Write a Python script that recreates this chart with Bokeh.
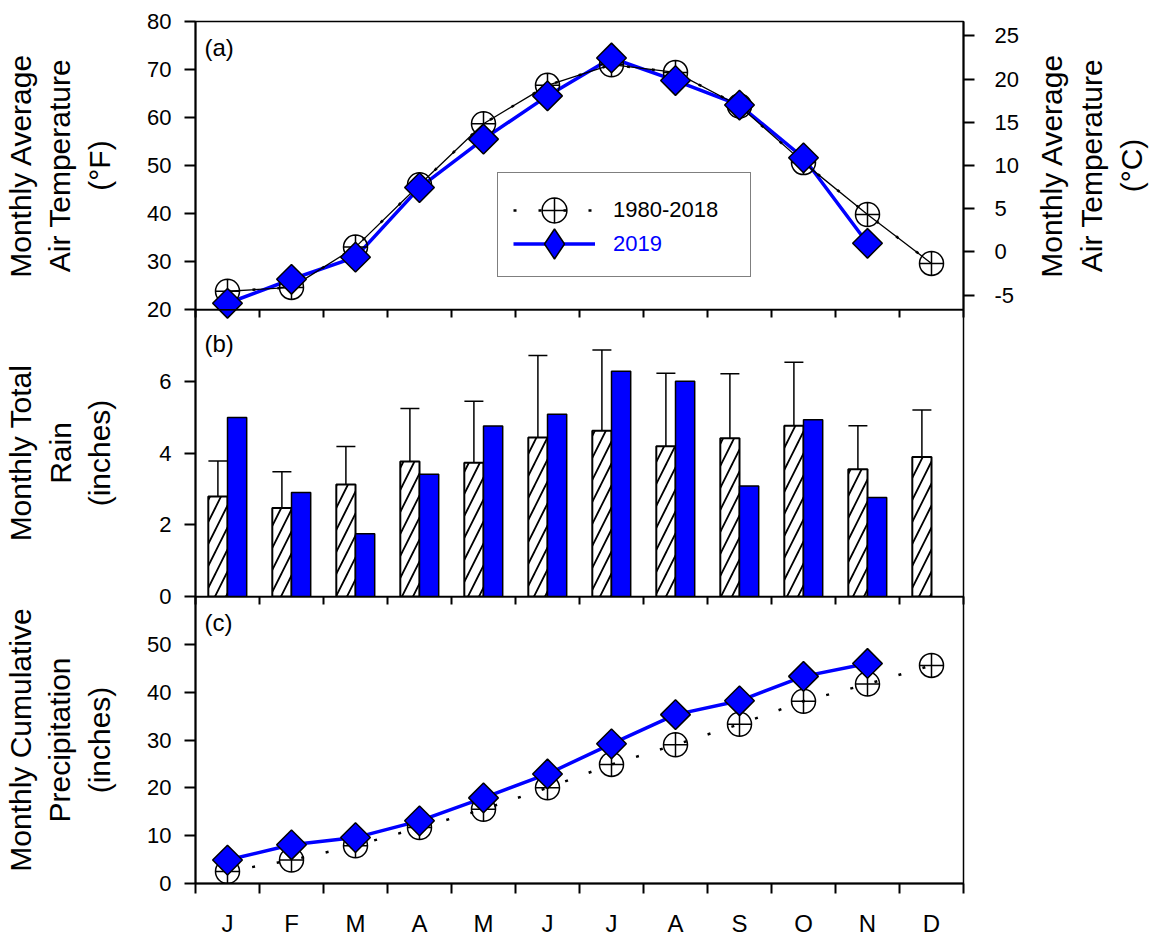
import math
from bokeh.plotting import figure
from bokeh.layouts import column, row
from bokeh.models import (Range1d, LinearAxis, FixedTicker, Whisker, TeeHead,
                          ColumnDataSource, Legend, LegendItem, Label, CDSView,
                          IndexFilter)
from bokeh.embed import file_html
from bokeh.resources import INLINE

NAN = float("nan")

# ---- data -------------------------------------------------------------
months = ["J", "F", "M", "A", "M", "J", "J", "A", "S", "O", "N", "D"]

# (a) monthly average air temperature, deg F
temp_normal_f = [23.8, 24.6, 33.0, 46.0, 58.7, 66.7, 71.0, 69.4, 62.4, 50.6, 39.8, 29.6]
temp_2019_f = [21.3, 26.3, 30.9, 45.4, 55.5, 64.5, 72.4, 67.7, 62.6, 51.6, 33.8, NAN]

# (b) monthly total rain, inches
rain_normal = [2.79, 2.47, 3.12, 3.76, 3.73, 4.43, 4.62, 4.19, 4.41, 4.76, 3.55, 3.89]
rain_normal_sd = [0.99, 1.01, 1.06, 1.48, 1.71, 2.29, 2.25, 2.03, 1.80, 1.77, 1.21, 1.31]
rain_2019 = [4.99, 2.90, 1.75, 3.41, 4.75, 5.08, 6.28, 6.00, 3.08, 4.93, 2.76, NAN]

# (c) monthly cumulative precipitation, inches
cum_normal = [2.5, 4.9, 7.9, 11.7, 15.5, 20.0, 24.9, 29.0, 33.3, 38.1, 41.7, 45.6]
cum_2019 = [4.9, 8.1, 9.6, 13.1, 17.9, 22.9, 29.2, 35.3, 38.2, 43.3, 46.0, NAN]

series_labels = ["1980-2018", "2019"]

# ---- styling -----------------------------------------------------------
FONT = "Liberation Sans"
BLUE = "#0000ff"
FRAME_W = 768
LEFT_B = 195
RIGHT_B = 189
RIGHT_B_TOP = 67    # top panel leaves room for the separate °C title strip
OVERLAP = 14        # panels overlap by this much so edge tick labels are not clipped

x_mid = [i + 0.5 for i in range(len(months))]
x_edges = list(range(len(months) + 1))


def style_y_axis(ax, ticks, label, label_standoff):
    ax.ticker = FixedTicker(ticks=ticks)
    ax.major_tick_out = 11
    ax.major_tick_in = 0
    ax.minor_tick_out = 0
    ax.minor_tick_in = 0
    ax.major_tick_line_width = 2
    ax.axis_line_width = 2
    ax.major_label_text_font = FONT
    ax.major_label_text_font_size = "22px"
    ax.major_label_text_color = "black"
    ax.major_label_standoff = 13
    ax.axis_label = label
    ax.axis_label_text_font = FONT
    ax.axis_label_text_font_size = "30px"
    ax.axis_label_text_font_style = "normal"
    ax.axis_label_text_color = "black"
    ax.axis_label_standoff = label_standoff


def add_top_ticks(p):
    # month boundary ticks pointing down from the top edge of a panel
    ax = LinearAxis(ticker=FixedTicker(ticks=[], minor_ticks=x_edges))
    ax.major_tick_in = 0
    ax.major_tick_out = 0
    ax.minor_tick_in = 8
    ax.minor_tick_out = 0
    ax.minor_tick_line_width = 2
    ax.minor_tick_line_color = "black"
    ax.axis_line_width = 2
    ax.major_label_standoff = 0
    p.add_layout(ax, "above")


def make_panel(frame_h, top_b, bottom_b, y0, y1, margin_top=0, right_b=RIGHT_B):
    p = figure(frame_width=FRAME_W, frame_height=frame_h,
               x_range=Range1d(0, 12), y_range=Range1d(y0, y1),
               x_axis_location=None, output_backend="svg",
               toolbar_location=None,
               min_border_left=LEFT_B, min_border_right=right_b,
               min_border_top=top_b, min_border_bottom=bottom_b,
               margin=(margin_top, 0, 0, 0))
    p.grid.visible = False
    p.outline_line_color = "black"
    p.outline_line_width = 1.5
    p.background_fill_alpha = 0
    p.border_fill_alpha = 0
    return p


def panel_tag(p, text, y_top, dy):
    p.add_layout(Label(x=0, y=y_top, x_offset=9, y_offset=-dy, text=text,
                       text_baseline="top", text_font=FONT,
                       text_font_size="24px", text_color="black"))


# ---- (a) air temperature -----------------------------------------------
pa = make_panel(288, 21, OVERLAP, 20, 80, right_b=RIGHT_B_TOP)
style_y_axis(pa.yaxis[0], [20, 30, 40, 50, 60, 70, 80],
             "Monthly Average\nAir Temperature\n(°F)", 28)

c_lo = (20 - 32) * 5 / 9
c_hi = (80 - 32) * 5 / 9
c_ticks = [-5, 0, 5, 10, 15, 20, 25]
pa.extra_y_ranges = {"celsius": Range1d(c_lo, c_hi)}
ax_c = LinearAxis(y_range_name="celsius")
style_y_axis(ax_c, c_ticks, None, 0)
ax_c.major_label_standoff = 20
ax_c.major_label_overrides = {t: str(t) for t in c_ticks}
pa.add_layout(ax_c, "right")

src_a = ColumnDataSource(dict(x=x_mid, normal=temp_normal_f, y2019=temp_2019_f))
r_blue_a = pa.line("x", "y2019", source=src_a, line_color=BLUE, line_width=3.5)
pa.line("x", "normal", source=src_a, line_color="black", line_width=1.3)
r_dots_a = pa.line("x", "normal", source=src_a, line_color="black",
                   line_width=2.5, line_dash="3 22")
r_circ_a = pa.scatter("x", "normal", source=src_a, marker="circle_cross", size=24,
                      fill_color=None, line_color="black", line_width=1.5)
r_diam_a = pa.scatter("x", "y2019", source=src_a, marker="square", size=21,
                      angle=math.pi / 4, fill_color=BLUE, line_color="black",
                      line_width=1.5)
r_diam_a.level = "annotation"   # the January marker may spill over the frame edge

# legend swatches that stay out of the plot area
r_diam_key = pa.scatter("x", "y2019", source=src_a, marker="diamond", size=30,
                        fill_color=BLUE, line_color="black", line_width=1.5,
                        visible=False)
r_box_key = pa.scatter("x", "y2019", source=src_a, marker="square", size=1,
                       fill_alpha=0, line_alpha=0,
                       view=CDSView(filter=IndexFilter(indices=[])))
panel_tag(pa, "(a)", 80, 12)

legend_frame = Legend(items=[LegendItem(label=" ", renderers=[r_box_key])],
                      location=(302, 32), padding=0, spacing=0, margin=0,
                      glyph_width=200, glyph_height=103, label_width=52,
                      label_standoff=0, label_height=20,
                      border_line_color="black", border_line_width=1.5,
                      background_fill_color="white", background_fill_alpha=1.0,
                      label_text_font=FONT, label_text_font_size="22px")
legend_normal = Legend(items=[LegendItem(label=series_labels[0],
                                         renderers=[r_dots_a, r_circ_a])],
                       location=(318, 68), padding=0, spacing=0, margin=0,
                       glyph_width=82, glyph_height=62, label_height=25,
                       label_standoff=18, border_line_alpha=0,
                       background_fill_alpha=0, label_text_color="black",
                       label_text_font=FONT, label_text_font_size="22px")
legend_2019 = Legend(items=[LegendItem(label=series_labels[1],
                                       renderers=[r_blue_a, r_diam_key])],
                     location=(318, 28), padding=0, spacing=0, margin=0,
                     glyph_width=82, glyph_height=75, label_height=25,
                     label_standoff=18, border_line_alpha=0,
                     background_fill_alpha=0, label_text_color=BLUE,
                     label_text_font=FONT, label_text_font_size="22px")
pa.add_layout(legend_frame)
pa.add_layout(legend_normal)
pa.add_layout(legend_2019)

# narrow strip beside (a) that carries the °C title, read bottom to top
pt = figure(frame_width=1, frame_height=288, x_range=Range1d(0, 1),
            y_range=Range1d(c_lo, c_hi), x_axis_location=None,
            output_backend="svg", toolbar_location=None,
            min_border_left=120, min_border_right=1,
            min_border_top=21, min_border_bottom=OVERLAP)
pt.grid.visible = False
pt.outline_line_color = None
pt.background_fill_alpha = 0
pt.border_fill_alpha = 0
t_ax = pt.yaxis[0]
t_ax.ticker = FixedTicker(ticks=[])
t_ax.axis_line_color = None
t_ax.major_tick_out = 0
t_ax.major_tick_in = 0
t_ax.minor_tick_out = 0
t_ax.minor_tick_in = 0
t_ax.major_label_standoff = 0
t_ax.axis_label = "Monthly Average\nAir Temperature\n(°C)"
t_ax.axis_label_text_font = FONT
t_ax.axis_label_text_font_size = "30px"
t_ax.axis_label_text_font_style = "normal"
t_ax.axis_label_text_color = "black"
t_ax.axis_label_standoff = 3

# ---- (b) monthly rain ---------------------------------------------------
pb = make_panel(287, 0, OVERLAP, 0, 8, margin_top=-OVERLAP)
style_y_axis(pb.yaxis[0], [0, 2, 4, 6], "Monthly Total\nRain\n(inches)", 40)
add_top_ticks(pb)

bar_w = 0.3
src_b = ColumnDataSource(dict(
    xn=[x - bar_w / 2 for x in x_mid],
    x19=[x + bar_w / 2 for x in x_mid],
    normal=rain_normal,
    y2019=rain_2019,
    upper=[m + s for m, s in zip(rain_normal, rain_normal_sd)],
))
pb.add_layout(Whisker(base="xn", lower="normal", upper="upper", source=src_b,
                      line_color="black", line_width=1.5, lower_head=None,
                      upper_head=TeeHead(size=19, line_color="black", line_width=1.5)))
pb.vbar(x="xn", top="normal", width=bar_w, source=src_b, fill_color="white",
        line_color="black", line_width=2, hatch_pattern="right_diagonal_line",
        hatch_color="black", hatch_weight=1.8, hatch_scale=22)
pb.vbar(x="x19", top="y2019", width=bar_w, source=src_b, fill_color=BLUE,
        line_color="black", line_width=1.5)
panel_tag(pb, "(b)", 8, 20)

# ---- (c) cumulative precipitation --------------------------------------
pc = make_panel(287, 0, 52, 0, 60, margin_top=-OVERLAP)
style_y_axis(pc.yaxis[0], [0, 10, 20, 30, 40, 50],
             "Monthly Cumulative\nPrecipitation\n(inches)", 28)
add_top_ticks(pc)

xa = LinearAxis(ticker=FixedTicker(ticks=x_mid, minor_ticks=x_edges))
xa.major_label_overrides = {x: m for x, m in zip(x_mid, months)}
xa.major_tick_out = 0
xa.major_tick_in = 0
xa.minor_tick_out = 10
xa.minor_tick_in = 0
xa.minor_tick_line_width = 2
xa.minor_tick_line_color = "black"
xa.axis_line_width = 2
xa.major_label_standoff = 16
xa.major_label_text_font = FONT
xa.major_label_text_font_size = "24px"
xa.major_label_text_color = "black"
pc.add_layout(xa, "below")

src_c = ColumnDataSource(dict(x=x_mid, normal=cum_normal, y2019=cum_2019))
pc.line("x", "y2019", source=src_c, line_color=BLUE, line_width=3.5)
pc.line("x", "normal", source=src_c, line_color="black", line_width=2.5,
        line_dash="3 22")
pc.scatter("x", "normal", source=src_c, marker="circle_cross", size=24,
           fill_color=None, line_color="black", line_width=1.5)
pc.scatter("x", "y2019", source=src_c, marker="square", size=21,
           angle=math.pi / 4, fill_color=BLUE, line_color="black", line_width=1.5)
panel_tag(pc, "(c)", 60, 12)

layout = column(row(pa, pt, spacing=0), pb, pc, spacing=0)
open("out.html", "w").write(file_html(layout, INLINE))
